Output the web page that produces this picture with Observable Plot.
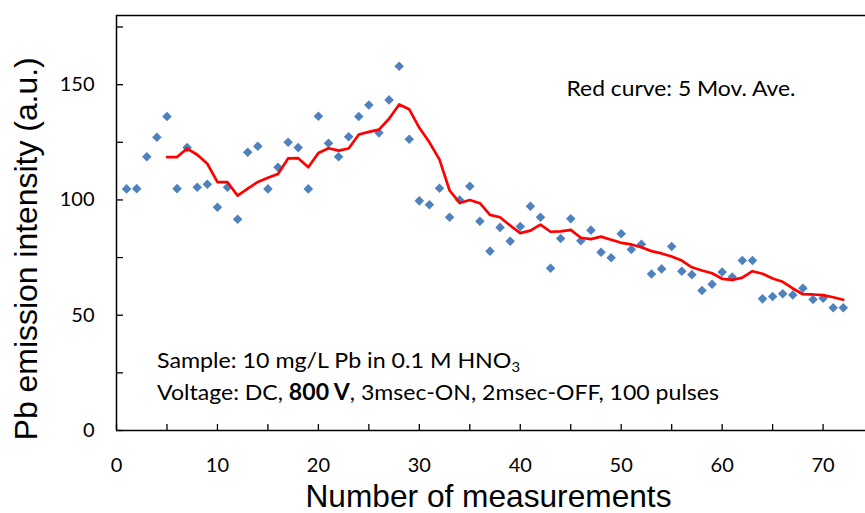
<!DOCTYPE html>
<html>
<head>
<meta charset="utf-8">
<script src="https://cdn.jsdelivr.net/npm/d3@7"></script>
<script src="https://cdn.jsdelivr.net/npm/@observablehq/plot@0.6"></script>
<style>
  html, body { margin: 0; padding: 0; background: #fff; }
  svg { display: block; }
</style>
</head>
<body>
<div id="chart"></div>
<script>
// Measurement number (x) and Pb emission intensity (blue diamonds)
const measurement = [1,2,3,4,5,6,7,8,9,10,11,12,13,14,15,16,17,18,19,20,21,22,23,24,25,26,27,28,29,30,31,32,33,34,35,36,
  37,38,39,40,41,42,43,44,45,46,47,48,49,50,51,52,53,54,55,56,57,58,59,60,61,62,63,64,65,66,67,68,69,70,71,72];
const intensity = [104.8,104.9,118.7,127.2,136.2,104.9,122.7,105.5,106.8,96.8,105.5,91.6,120.7,123.3,104.8,114.2,125.0,122.7,
  104.8,136.3,124.6,118.7,127.4,136.2,141.2,129.1,143.4,158.0,126.3,99.6,97.9,105.1,92.5,100.0,105.9,90.8,
  77.8,88.1,82.1,88.5,97.3,92.5,70.4,83.3,91.8,82.3,86.9,77.3,74.9,85.3,78.5,80.8,67.9,70.1,79.8,69.1,
  67.6,60.7,63.4,68.7,66.6,73.7,73.7,57.1,58.1,59.3,58.8,61.7,56.8,57.4,53.2,53.2];

// Red curve: 5-point moving average
const avgMeasurement = [5,6,7,8,9,10,11,12,13,14,15,16,17,18,19,20,21,22,23,24,25,26,27,28,29,30,31,32,33,34,35,36,
  37,38,39,40,41,42,43,44,45,46,47,48,49,50,51,52,53,54,55,56,57,58,59,60,61,62,63,64,65,66,67,68,69,70,71,72];
const movingAverage = [118.6,118.6,122.3,119.6,115.7,107.7,107.7,101.9,104.9,107.8,109.6,111.3,118.0,118.1,114.2,120.4,
  122.4,121.4,122.3,128.4,129.5,130.5,135.2,141.4,139.3,131.3,125.0,117.5,104.1,98.7,100.0,98.6,
  93.5,92.5,88.9,85.6,86.7,89.3,86.2,86.4,87.0,83.6,83.0,84.1,82.7,81.4,80.7,79.5,77.8,76.8,75.5,73.7,
  70.8,69.4,68.2,65.8,65.3,66.3,69.1,68.0,65.9,64.5,61.6,59.1,59.0,58.7,57.8,56.7];

// Axis ticks and labels
const xTickMarks = [0,5,10,15,20,25,30,35,40,45,50,55,60,65,70];
const xTickLabels = [0,10,20,30,40,50,60,70];
const yTickMarks = [0,25,50,75,100,125,150,175];
const yTickLabels = [0,50,100,150];

// Texts
const xTitle = "Number of measurements";
const yTitle = "Pb emission intensity (a.u.)";
const noteCurve = "Red curve: 5 Mov. Ave.";
const noteSample = "Sample: 10 mg/L Pb in 0.1 M HNO3";
const noteVoltage = "Voltage: DC, 800 V, 3msec-ON, 2msec-OFF, 100 pulses";

const points = measurement.map((m, i) => ({m, v: intensity[i]}));
const avg = avgMeasurement.map((m, i) => ({m, v: movingAverage[i]}));

const bodyFont = "Lato, 'Open Sans', sans-serif";
const titleFont = "'Liberation Sans', Arial, sans-serif";
const axisColor = "#000";

const chart = Plot.plot({
  width: 865,
  height: 513,
  marginLeft: 116,
  marginRight: 0,
  marginTop: 15,
  marginBottom: 83,
  x: {domain: [0, 74.2], label: null},
  y: {domain: [0, 180], label: null},
  style: {background: "#fff", fontFamily: bodyFont, color: "#000"},
  marks: [
    // inward tick marks
    Plot.axisX({ticks: xTickMarks, tickSize: -6, tickFormat: () => "", stroke: axisColor, strokeWidth: 1.3, label: null}),
    Plot.axisY({ticks: yTickMarks, tickSize: -7, tickFormat: () => "", stroke: axisColor, strokeWidth: 1.3, label: null}),
    // tick labels
    Plot.axisX({ticks: xTickLabels, tickSize: 0, tickPadding: 27, fontSize: 20, fill: "#000", label: null}),
    Plot.axisY({ticks: yTickLabels, tickSize: 0, tickPadding: 22, fontSize: 20, fill: "#000", label: null}),
    // axis box (left, bottom, top)
    Plot.ruleX([0], {stroke: axisColor, strokeWidth: 1.5}),
    Plot.ruleY([0], {stroke: axisColor, strokeWidth: 1.5}),
    Plot.ruleY([180], {stroke: axisColor, strokeWidth: 1.5}),
    // data
    Plot.dot(points, {x: "m", y: "v", symbol: "diamond2", r: 4.3, fill: "#4f81bd", stroke: null}),
    Plot.line(avg, {x: "m", y: "v", stroke: "#ff0000", strokeWidth: 2.7, strokeLinejoin: "round"}),
    // annotations
    Plot.text([noteCurve], {text: d => d, frameAnchor: "top-left", dx: 450, dy: 73.6, textAnchor: "start", lineAnchor: "middle", fontSize: 22, fontFamily: bodyFont, fill: "#000"}),
    Plot.text([noteSample], {text: d => d, frameAnchor: "top-left", dx: 40.5, dy: 345.4, textAnchor: "start", lineAnchor: "middle", fontSize: 22, fontFamily: bodyFont, fill: "#000"}),
    Plot.text([noteVoltage], {text: d => d, frameAnchor: "top-left", dx: 40.5, dy: 377.3, textAnchor: "start", lineAnchor: "middle", fontSize: 22, fontFamily: bodyFont, fill: "#000"}),
    // axis titles
    Plot.text([xTitle], {text: d => d, frameAnchor: "bottom", dx: -2.5, dy: 66.5, textAnchor: "middle", lineAnchor: "middle", fontSize: 31.5, fontFamily: titleFont, fill: "#000"}),
    Plot.text([yTitle], {text: d => d, frameAnchor: "left", dx: -90, dy: 25.8, rotate: -90, textAnchor: "middle", lineAnchor: "middle", fontSize: 31.5, fontFamily: titleFont, fill: "#000"})
  ]
});

// Rich text: subscript and bold, plus widths matched to the reference
const lengths = new Map([[noteCurve, 229], [noteSample, 363], [noteVoltage, 562], [xTitle, 366], [yTitle, 383]]);
d3.select(chart).selectAll("text").each(function () {
  const el = d3.select(this);
  const s = el.text();
  if (!lengths.has(s)) return;
  if (s === noteSample) {
    el.text("");
    el.append("tspan").text("Sample: 10 mg/L Pb in 0.1 M HNO");
    el.append("tspan").attr("dy", "0.3em").attr("font-size", "14").text("3");
  } else if (s === noteVoltage) {
    el.text("");
    el.append("tspan").text("Voltage: DC, ");
    el.append("tspan").attr("font-weight", "bold").text("800 V");
    el.append("tspan").text(", 3msec-ON, 2msec-OFF, 100 pulses");
  }
  el.attr("textLength", lengths.get(s)).attr("lengthAdjust", "spacingAndGlyphs");
});

document.getElementById("chart").appendChild(chart);
</script>
</body>
</html>
